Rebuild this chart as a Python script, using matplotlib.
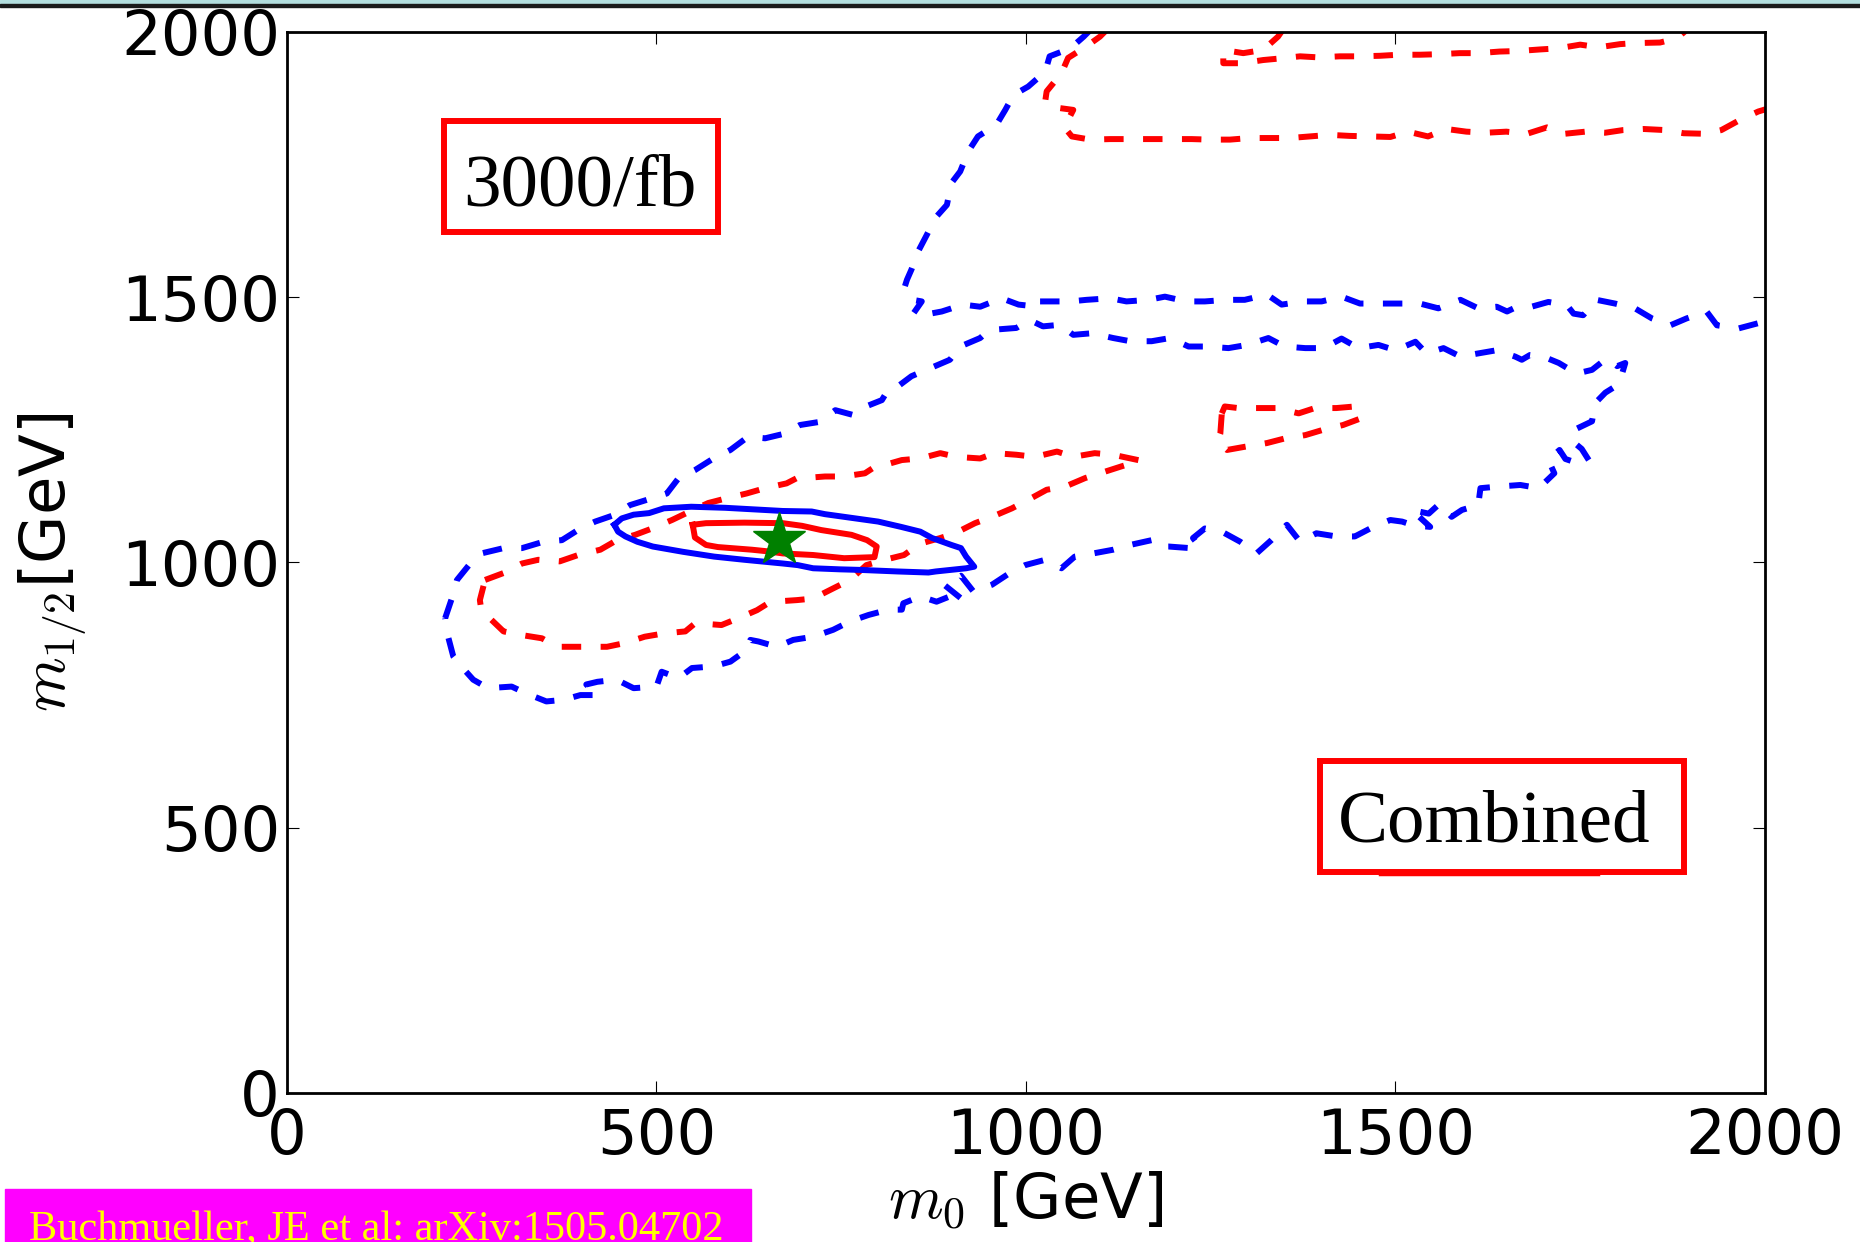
import matplotlib.pyplot as plt
import numpy as np
from matplotlib.patches import Rectangle

plt.rcParams['mathtext.fontset'] = 'cm'
plt.rcParams['lines.scale_dashes'] = False

# axis ticks
ticks = [0, 500, 1000, 1500, 2000]

# best fit point
best_x = [666]
best_y = [1042]

# red solid (inner, 68%)
red_inner = [(549, 1071), (552, 1047), (567, 1033), (583, 1029), (629, 1024), (650, 1021),
             (671, 1017), (712, 1014), (754, 1008), (795, 1010), (798, 1030), (785, 1042),
             (764, 1052), (723, 1061), (697, 1069), (671, 1074), (619, 1075), (567, 1074),
             (549, 1071)]

# blue solid (inner, 68%)
blue_inner = [(443, 1071), (453, 1083), (469, 1090), (490, 1093), (510, 1102), (547, 1105),
              (593, 1103), (645, 1099), (671, 1097), (710, 1096), (728, 1091), (764, 1084),
              (800, 1077), (831, 1067), (857, 1058), (873, 1046), (899, 1033), (912, 1027),
              (919, 1011), (930, 992), (919, 989), (878, 983), (868, 981), (826, 983),
              (774, 986), (748, 987), (712, 989), (691, 995), (671, 998), (619, 1005),
              (578, 1011), (536, 1020), (495, 1030), (474, 1039), (458, 1049), (448, 1058),
              (443, 1071)]

# blue dashed, closed loop
blue_loop = [(214, 895), (223, 932), (230, 967), (248, 998), (263, 1017), (293, 1027), (318, 1027),
             (347, 1039), (372, 1042), (397, 1064), (417, 1077), (444, 1090), (464, 1108),
             (487, 1118), (514, 1130), (530, 1159), (552, 1174), (577, 1196), (600, 1212),
             (624, 1237), (647, 1234), (674, 1243), (694, 1259), (721, 1265), (742, 1287),
             (766, 1278), (778, 1291), (805, 1306), (812, 1322), (823, 1328), (845, 1351),
             (870, 1366), (897, 1382), (911, 1407), (938, 1423), (950, 1438), (987, 1442),
             (1005, 1457), (1023, 1445), (1046, 1448), (1064, 1429), (1089, 1432), (1118, 1423),
             (1141, 1417), (1170, 1417), (1195, 1423), (1220, 1407), (1245, 1407), (1274, 1404),
             (1299, 1410), (1328, 1423), (1350, 1407), (1378, 1404), (1403, 1404), (1427, 1422),
             (1450, 1404), (1477, 1410), (1500, 1400), (1527, 1416), (1542, 1394), (1565, 1404),
             (1588, 1388), (1612, 1394), (1637, 1400), (1662, 1388), (1671, 1382), (1682, 1391),
             (1700, 1388), (1721, 1376), (1745, 1356), (1766, 1363), (1786, 1385), (1800, 1370),
             (1811, 1376), (1805, 1348), (1800, 1334), (1784, 1320), (1770, 1300), (1766, 1266),
             (1745, 1252), (1740, 1228), (1752, 1214), (1762, 1192), (1745, 1188), (1730, 1195),
             (1722, 1212), (1707, 1193), (1715, 1168), (1694, 1140), (1669, 1146), (1639, 1143),
             (1615, 1140), (1612, 1108), (1590, 1099), (1576, 1086), (1560, 1111), (1545, 1092),
             (1522, 1099), (1547, 1067), (1524, 1070), (1509, 1077), (1493, 1080), (1470, 1067),
             (1445, 1049), (1420, 1049), (1393, 1055), (1371, 1039), (1353, 1071), (1332, 1042),
             (1312, 1017), (1290, 1039), (1265, 1058), (1242, 1064), (1226, 1046), (1235, 1030),
             (1222, 1027), (1193, 1030), (1179, 1030), (1170, 1042), (1141, 1033), (1118, 1024),
             (1091, 1017), (1066, 1011), (1048, 989), (1026, 1005), (999, 995), (978, 980),
             (954, 958), (929, 945), (912, 975), (890, 957), (915, 929), (897, 936), (879, 926),
             (857, 936), (834, 923), (832, 911), (814, 911), (787, 901), (762, 889), (739, 873),
             (712, 860), (685, 854), (663, 841), (638, 851), (627, 854), (622, 835), (600, 813),
             (577, 804), (548, 801), (530, 782), (507, 794), (500, 766), (469, 763), (446, 779),
             (420, 775), (405, 770), (421, 750), (397, 750), (374, 741), (351, 738), (324, 753),
             (304, 766), (272, 763), (252, 779), (234, 807), (225, 823), (218, 860), (214, 895)]

# blue dashed, arm to the top edge and band to the right edge
blue_arm = [(1088, 2005), (1078, 1991), (1060, 1969), (1032, 1954), (1026, 1925), (1003, 1897),
            (983, 1881), (972, 1853), (960, 1825), (935, 1803), (922, 1775), (911, 1737),
            (899, 1715), (893, 1674), (877, 1649), (866, 1618), (854, 1586), (845, 1552),
            (839, 1533), (836, 1520), (847, 1495), (859, 1492), (848, 1470), (863, 1467),
            (886, 1473), (915, 1486), (938, 1482), (967, 1498), (990, 1486), (1010, 1483),
            (1010, 1492), (1028, 1492), (1060, 1492), (1082, 1495), (1114, 1498), (1136, 1492),
            (1166, 1495), (1188, 1501), (1217, 1492), (1242, 1492), (1272, 1495), (1296, 1495),
            (1326, 1505), (1346, 1486), (1375, 1492), (1400, 1492), (1427, 1501), (1452, 1488),
            (1482, 1488), (1506, 1488), (1533, 1488), (1558, 1479), (1588, 1495), (1612, 1479),
            (1637, 1482), (1651, 1473), (1660, 1479), (1684, 1482), (1707, 1491), (1732, 1485),
            (1741, 1469), (1754, 1466), (1772, 1495), (1797, 1488), (1824, 1479), (1847, 1460),
            (1872, 1447), (1894, 1460), (1921, 1473), (1935, 1447), (1964, 1441), (1991, 1451),
            (2010, 1453)]

# red dashed, closed loop
red_loop = [(268, 967), (293, 980), (318, 998), (340, 1005), (369, 1002), (394, 1014), (424, 1024),
            (439, 1036), (446, 1042), (471, 1052), (494, 1064), (521, 1080), (545, 1096),
            (570, 1112), (595, 1121), (622, 1130), (647, 1140), (676, 1149), (690, 1159),
            (699, 1159), (728, 1162), (753, 1162), (782, 1168), (793, 1178), (802, 1181),
            (832, 1193), (857, 1196), (884, 1206), (906, 1199), (938, 1196), (958, 1206),
            (987, 1203), (1012, 1199), (1042, 1209), (1064, 1199), (1093, 1206), (1118, 1203),
            (1155, 1192), (1129, 1181), (1100, 1168), (1080, 1159), (1053, 1143), (1028, 1137),
            (1003, 1118), (981, 1102), (954, 1086), (931, 1074), (904, 1055), (884, 1046),
            (856, 1035), (835, 1014), (809, 1005), (784, 995), (762, 967), (739, 951), (712, 932),
            (690, 929), (658, 926), (651, 923), (636, 910), (611, 895), (588, 882), (559, 885),
            (552, 885), (539, 870), (509, 866), (484, 860), (457, 848), (433, 841), (390, 841),
            (365, 841), (345, 857), (318, 863), (293, 870), (272, 898), (263, 910), (261, 929),
            (268, 967)]

# red dashed, small island
red_island = [(1265, 1281), (1269, 1294), (1287, 1291), (1314, 1291), (1339, 1291), (1369, 1281),
              (1391, 1291), (1420, 1291), (1445, 1294), (1454, 1272), (1429, 1259), (1402, 1250),
              (1378, 1240), (1351, 1234), (1326, 1225), (1296, 1218), (1272, 1212), (1267, 1218),
              (1260, 1231), (1263, 1243), (1265, 1281)]

# red dashed, upper curves running to the frame
red_top = [(1110, 2005), (1100, 1991), (1082, 1973), (1057, 1951), (1048, 1922), (1028, 1888),
           (1026, 1869), (1032, 1859), (1064, 1853), (1057, 1834), (1051, 1822), (1062, 1803),
           (1087, 1797), (1114, 1798), (1141, 1798), (1170, 1798), (1195, 1798), (1224, 1798),
           (1249, 1797), (1276, 1797), (1303, 1800), (1330, 1800), (1357, 1800), (1384, 1803),
           (1411, 1806), (1438, 1804), (1466, 1803), (1493, 1802), (1517, 1812), (1544, 1803),
           (1569, 1817), (1596, 1812), (1623, 1810), (1650, 1812), (1678, 1808), (1705, 1820),
           (1729, 1808), (1757, 1812), (1784, 1810), (1808, 1815), (1836, 1817), (1865, 1815),
           (1890, 1809), (1919, 1808), (1941, 1815), (1966, 1834), (1991, 1850), (2010, 1858)]

red_top2 = [(1348, 2005), (1341, 1991), (1321, 1966), (1294, 1960), (1267, 1966), (1267, 1941),
            (1292, 1941), (1321, 1947), (1344, 1950), (1371, 1954), (1396, 1952), (1425, 1954),
            (1450, 1954), (1479, 1955), (1504, 1957), (1533, 1957), (1558, 1958), (1587, 1960),
            (1612, 1960), (1641, 1963), (1666, 1964), (1696, 1967), (1720, 1969), (1750, 1976),
            (1775, 1971), (1804, 1977), (1826, 1979), (1858, 1980), (1881, 1988), (1895, 2005)]

fig = plt.figure(figsize=(18.6, 12.42), dpi=100)
ax = fig.add_axes([0.1543, 0.1200, 0.7946, 0.8543])

lw = 4.3
dash = (14, 14)
for c in [blue_loop, blue_arm]:
    a = np.array(c)
    ax.plot(a[:, 0], a[:, 1], color='blue', lw=lw, dashes=dash)
for c in [red_loop, red_island, red_top, red_top2]:
    a = np.array(c)
    ax.plot(a[:, 0], a[:, 1], color='red', lw=lw, dashes=dash)
a = np.array(blue_inner)
ax.plot(a[:, 0], a[:, 1], color='blue', lw=lw)
a = np.array(red_inner)
ax.plot(a[:, 0], a[:, 1], color='red', lw=lw)
ax.plot(best_x, best_y, marker='*', ms=40, color='green', mec='green', ls='none', zorder=5)

ax.set_xlim(0, 2000)
ax.set_ylim(0, 2000)
ax.set_xticks(ticks)
ax.set_yticks(ticks)
ax.tick_params(direction='in', length=8.5, width=0.8, top=True, right=True, labelsize=45)
ax.tick_params(axis='x', pad=10)
ax.tick_params(axis='y', pad=5)
for s in ax.spines.values():
    s.set_linewidth(2)

ax.set_xlabel(r'$m_0$ [GeV]', fontsize=45)
ax.xaxis.set_label_coords(0.5, -0.072)
ax.set_ylabel(r'$m_{1/2}$[GeV]', fontsize=45)
ax.yaxis.set_label_coords(-0.134, 0.5)

# labels in boxes
ax.add_patch(Rectangle((0.106, 0.8115), 0.1856, 0.1045, transform=ax.transAxes,
                       fill=False, edgecolor='red', lw=4.3))
ax.text(0.198, 0.836, '3000/fb', transform=ax.transAxes, ha='center', va='baseline',
        fontsize=54, family='Liberation Serif')
ax.add_patch(Rectangle((0.699, 0.2083), 0.2462, 0.1041, transform=ax.transAxes,
                       fill=False, edgecolor='red', lw=4.3))
ax.plot([0.7395, 0.887], [0.2065, 0.2065], transform=ax.transAxes, color='red', lw=2.5)
ax.text(0.817, 0.2369, 'Combined', transform=ax.transAxes, ha='center', va='baseline',
        fontsize=54, family='Liberation Serif')

# slide decorations
fig.patches.append(Rectangle((0, 1 - 4.5 / 1242), 1, 4.5 / 1242, transform=fig.transFigure,
                             color='#b3dede'))
fig.patches.append(Rectangle((0, 1 - 6.8 / 1242), 1, 2.3 / 1242, transform=fig.transFigure,
                             color='#1a1a1a'))
fig.patches.append(Rectangle((0.0027, 0), 0.4011, 0.0427, transform=fig.transFigure,
                             color='#ff00ff'))
fig.text(29 / 1860, 0.0016, 'Buchmueller, JE et al: arXiv:1505.04702', color='#ffff00',
         fontsize=30.5, family='Liberation Serif', va='baseline')

fig.savefig('out.png', dpi=100)
